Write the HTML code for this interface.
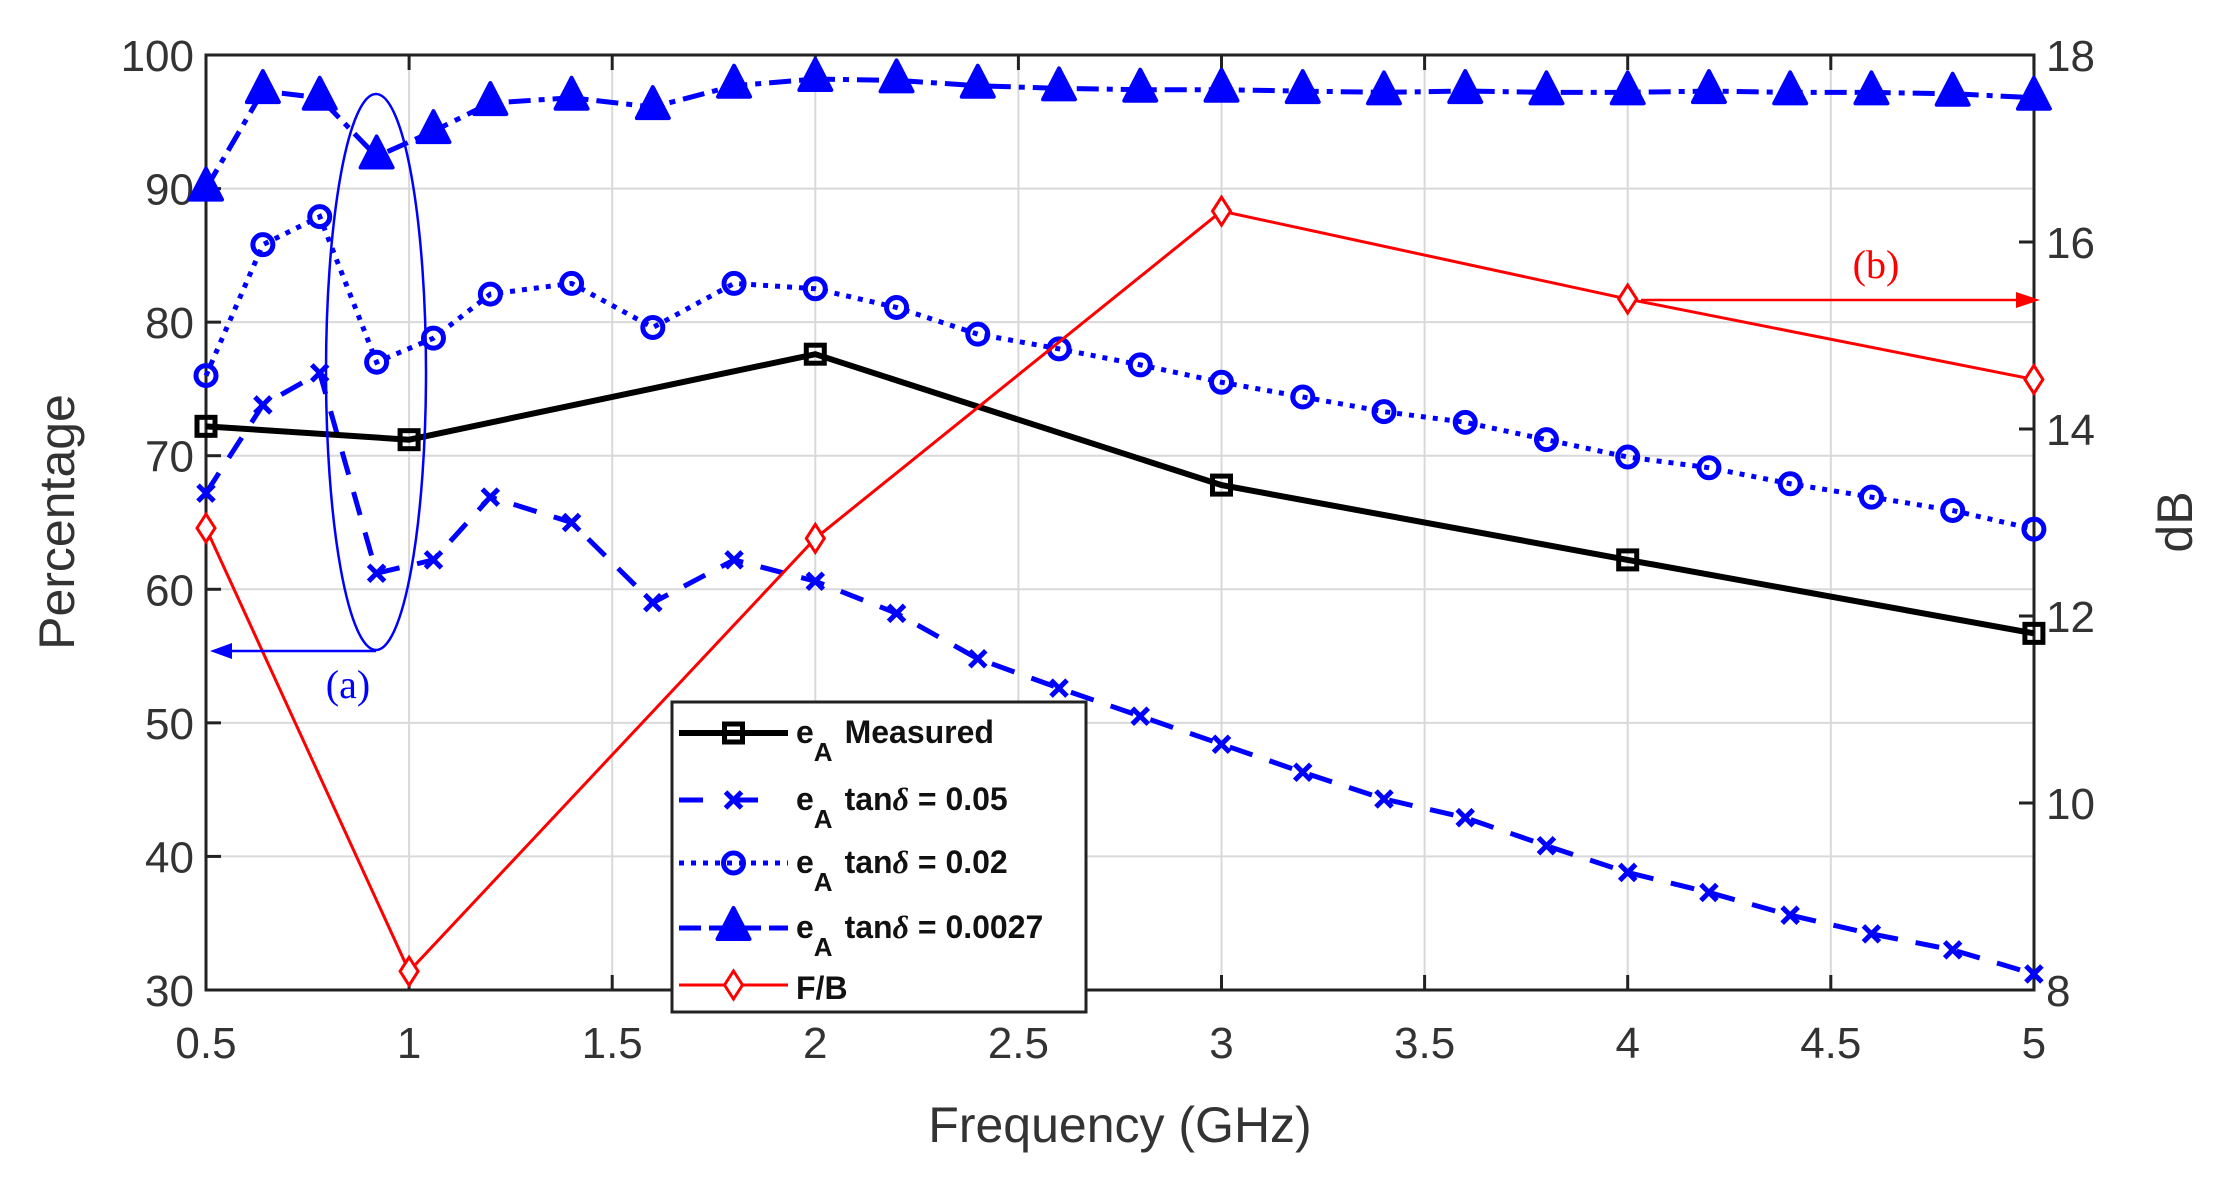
<!DOCTYPE html>
<html><head><meta charset="utf-8"><style>
body{margin:0;background:#fff}
svg{display:block}
text{font-family:"Liberation Sans",sans-serif}
</style></head><body>
<svg id="s" width="2217" height="1187" xmlns="http://www.w3.org/2000/svg"></svg>
<script>
const s=document.getElementById('s');
const L=206,R=2034,T=55,B=990;
const X=f=>L+(f-0.5)*406.2, Y=p=>T+(100-p)*13.357, D=d=>B-(d-8)*93.5;
let h='';
for(let f=0.5;f<=5.001;f+=0.5){const x=X(f);h+=`<line x1="${x}" y1="${T}" x2="${x}" y2="${B}" stroke="#d9d9d9" stroke-width="2"/>`;}
for(let p=30;p<=100;p+=10){const y=Y(p);h+=`<line x1="${L}" y1="${y}" x2="${R}" y2="${y}" stroke="#d9d9d9" stroke-width="2"/>`;}
h+=`<rect x="${L}" y="${T}" width="${R-L}" height="${B-T}" fill="none" stroke="#222" stroke-width="3"/>`;
for(let f=0.5;f<=5.001;f+=0.5){const x=X(f);h+=`<line x1="${x}" y1="${B}" x2="${x}" y2="${B-15}" stroke="#222" stroke-width="3"/><line x1="${x}" y1="${T}" x2="${x}" y2="${T+15}" stroke="#222" stroke-width="3"/><text x="${x}" y="${B+68}" font-size="44" text-anchor="middle" fill="#333">${Math.round(f*10)/10}</text>`;}
for(let p=30;p<=100;p+=10){const y=Y(p);h+=`<line x1="${L}" y1="${y}" x2="${L+15}" y2="${y}" stroke="#222" stroke-width="3"/><text x="${L-12}" y="${y+16}" font-size="44" text-anchor="end" fill="#333">${p}</text>`;}
for(let d=8;d<=18;d+=2){const y=D(d);h+=`<line x1="${R}" y1="${y}" x2="${R-15}" y2="${y}" stroke="#222" stroke-width="3"/><text x="${R+12}" y="${y+16}" font-size="44" fill="#333">${d}</text>`;}
h+=`<text x="0" y="0" font-size="50" text-anchor="middle" fill="#333" transform="translate(74,522) rotate(-90)">Percentage</text>`;
h+=`<text x="0" y="0" font-size="50" text-anchor="middle" fill="#333" transform="translate(2192,522) rotate(-90)">dB</text>`;
h+=`<text x="${(L+R)/2}" y="1142" font-size="50" text-anchor="middle" fill="#333">Frequency (GHz)</text>`;
const fx=[0.5,0.64,0.78,0.92,1.06,1.2,1.4,1.6,1.8,2,2.2,2.4,2.6,2.8,3,3.2,3.4,3.6,3.8,4,4.2,4.4,4.6,4.8,5];
const xs=[67.2,73.8,76.2,61.2,62.2,66.9,65.0,59.0,62.2,60.6,58.2,54.8,52.6,50.5,48.4,46.3,44.3,42.9,40.8,38.8,37.3,35.6,34.2,33.0,31.2];
const cs=[76,85.8,87.9,77.0,78.8,82.1,82.9,79.6,82.9,82.5,81.1,79.1,78.0,76.8,75.5,74.4,73.3,72.5,71.2,69.9,69.1,67.9,66.9,65.9,64.5];
const ts=[90,97.3,96.8,92.4,94.3,96.4,96.8,96.1,97.7,98.2,98.1,97.7,97.5,97.4,97.4,97.3,97.2,97.3,97.2,97.2,97.3,97.2,97.2,97.1,96.8];
const mf=[0.5,1,2,3,4,5], ms=[72.2,71.2,77.6,67.8,62.2,56.7], fb=[12.94,8.2,12.83,16.33,15.39,14.53];
const pl=(pts,st)=>`<polyline fill="none" points="${pts.map(p=>p.join(',')).join(' ')}" ${st}/>`;
const xm=(x,y)=>`<path d="M${x-8} ${y-8}L${x+8} ${y+8}M${x-8} ${y+8}L${x+8} ${y-8}" stroke="#0000ff" stroke-width="5"/>`;
const cm=(x,y)=>`<circle cx="${x}" cy="${y}" r="10" fill="none" stroke="#0000ff" stroke-width="5"/>`;
const tm=(x,y)=>`<path d="M${x} ${y-20}L${x+16} ${y+11}L${x-16} ${y+11}Z" fill="#0000ff" stroke="#0000ff" stroke-width="4" stroke-linejoin="round"/>`;
const sm=(x,y)=>`<rect x="${x-9}" y="${y-9}" width="18" height="18" fill="none" stroke="#000" stroke-width="5"/>`;
const dm=(x,y)=>`<path d="M${x} ${y-14}L${x+9} ${y}L${x} ${y+14}L${x-9} ${y}Z" fill="#fff" stroke="#ff0000" stroke-width="3"/>`;
h+=pl(fx.map((f,i)=>[X(f),Y(ts[i])]),'stroke="#0000ff" stroke-width="5" stroke-dasharray="22,8,6,8"');
fx.forEach((f,i)=>h+=tm(X(f),Y(ts[i])));
h+=pl(fx.map((f,i)=>[X(f),Y(cs[i])]),'stroke="#0000ff" stroke-width="5" stroke-dasharray="5,7"');
fx.forEach((f,i)=>h+=cm(X(f),Y(cs[i])));
h+=pl(fx.map((f,i)=>[X(f),Y(xs[i])]),'stroke="#0000ff" stroke-width="5" stroke-dasharray="24,18"');
fx.forEach((f,i)=>h+=xm(X(f),Y(xs[i])));
h+=pl(mf.map((f,i)=>[X(f),Y(ms[i])]),'stroke="#000" stroke-width="6"');
mf.forEach((f,i)=>h+=sm(X(f),Y(ms[i])));
h+=pl(mf.map((f,i)=>[X(f),D(fb[i])]),'stroke="#ff0000" stroke-width="3"');
mf.forEach((f,i)=>h+=dm(X(f),D(fb[i])));
h+=`<ellipse cx="376" cy="372" rx="50" ry="278" fill="none" stroke="#0000ff" stroke-width="2.5"/>`;
h+=`<line x1="376" y1="651" x2="216" y2="651" stroke="#0000ff" stroke-width="2.5"/><path d="M210 651L232 643L232 659Z" fill="#0000ff"/>`;
h+=`<text x="348" y="698" font-size="40" text-anchor="middle" fill="#0000ff" style="font-family:'Liberation Serif',serif">(a)</text>`;
h+=`<line x1="1641" y1="300" x2="2030" y2="300" stroke="#ff0000" stroke-width="2.5"/><path d="M2040 300L2016 292L2016 308Z" fill="#ff0000"/>`;
h+=`<text x="1876" y="278" font-size="40" text-anchor="middle" fill="#ff0000" style="font-family:'Liberation Serif',serif">(b)</text>`;
h+=`<rect x="672" y="702" width="414" height="310" fill="#fff" stroke="#222" stroke-width="3"/>`;
const rows=[733,800,863,928,988];
h+=`<line x1="679" y1="733" x2="788" y2="733" stroke="#000" stroke-width="6"/>`+sm(733.5,733);
h+=`<line x1="679" y1="800" x2="788" y2="800" stroke="#0000ff" stroke-width="5" stroke-dasharray="24,31"/>`+xm(733.5,800);
h+=`<line x1="679" y1="863" x2="788" y2="863" stroke="#0000ff" stroke-width="5" stroke-dasharray="5,7"/>`+cm(733.5,863);
h+=`<line x1="679" y1="928" x2="788" y2="928" stroke="#0000ff" stroke-width="5" stroke-dasharray="22,8"/>`+tm(733.5,928);
h+=`<line x1="679" y1="985" x2="788" y2="985" stroke="#ff0000" stroke-width="3"/>`+dm(733.5,985);
const lab=['Measured','tan<tspan font-style="italic" font-family="Liberation Serif">δ</tspan> = 0.05','tan<tspan font-style="italic" font-family="Liberation Serif">δ</tspan> = 0.02','tan<tspan font-style="italic" font-family="Liberation Serif">δ</tspan> = 0.0027'];
lab.forEach((t,i)=>{const y=rows[i];h+=`<text x="796" y="${y+10}" font-size="32" font-weight="bold" fill="#111">e<tspan font-size="26" dy="18">A</tspan><tspan dy="-18" dx="12">${t}</tspan></text>`;});
h+=`<text x="796" y="999" font-size="32" font-weight="bold" fill="#111">F/B</text>`;
s.innerHTML=h;
</script>
</body></html>
